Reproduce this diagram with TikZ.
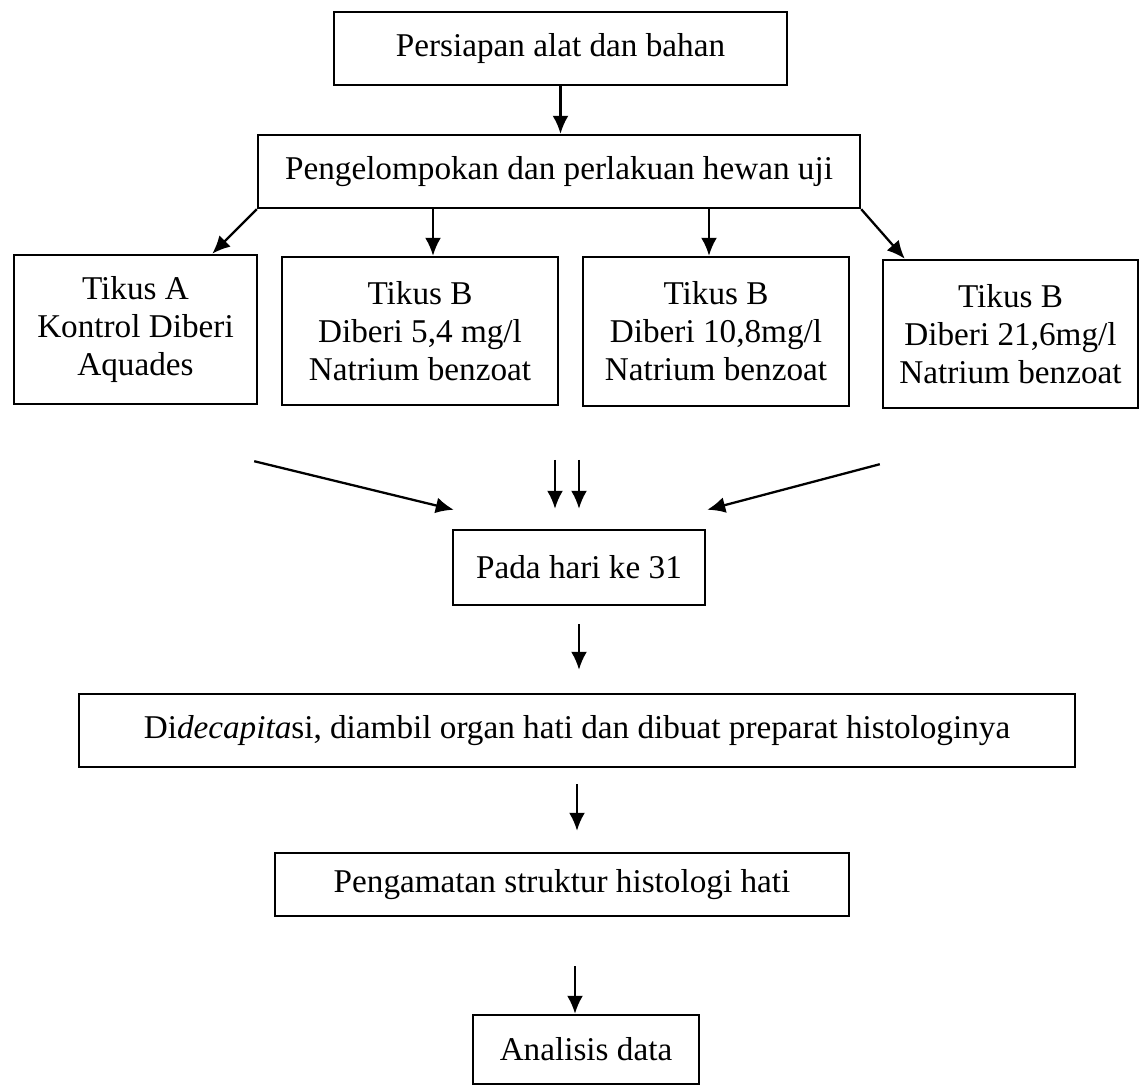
\documentclass[tikz,border=0pt]{standalone}
\usepackage{fontspec}
\setmainfont{Liberation Serif}
\usetikzlibrary{arrows.meta}

\begin{document}
\begin{tikzpicture}[
	stepBox/.style={rectangle, draw=black, line width=1.4pt, align=center, inner sep=0pt, font=\fontsize{18.9}{21.6}\selectfont},
	flowArrow/.style={-{Latex[length=3.6mm,width=3.2mm]}, line width=1.3pt}]
	\useasboundingbox (0,0) rectangle (22.8,21.76);

	% top boxes
	\node[stepBox, minimum width=9.06cm, minimum height=1.46cm](prep) at (11.21,20.79){Persiapan alat dan bahan};
	\node[stepBox, minimum width=12.04cm, minimum height=1.46cm](group) at (11.18,18.33){Pengelompokan dan perlakuan hewan uji};

	% draw rat group boxes
	\node[stepBox, minimum width=4.86cm, minimum height=2.98cm](tikusA) at (2.71,15.17){Tikus A\\Kontrol Diberi\\Aquades};
	\node[stepBox, minimum width=5.52cm, minimum height=2.96cm](tikusB1) at (8.40,15.14){Tikus B\\Diberi 5,4 mg/l\\Natrium benzoat};
	\node[stepBox, minimum width=5.32cm, minimum height=2.98cm](tikusB2) at (14.32,15.13){Tikus B\\Diberi 10,8mg/l\\Natrium benzoat};
	\node[stepBox, minimum width=5.10cm, minimum height=2.96cm](tikusB3) at (20.21,15.08){Tikus B\\Diberi 21,6mg/l\\Natrium benzoat};

	% lower boxes
	\node[stepBox, minimum width=5.04cm, minimum height=1.50cm](pada) at (11.58,10.41){Pada hari ke 31};
	\node[stepBox, minimum width=19.92cm, minimum height=1.46cm](decap) at (11.54,7.15){Di\textit{decapita}si, diambil organ hati dan dibuat preparat histologinya};
	\node[stepBox, minimum width=11.48cm, minimum height=1.26cm](amati) at (11.24,4.07){Pengamatan struktur histologi hati};
	\node[stepBox, minimum width=4.52cm, minimum height=1.38cm](analisis) at (11.72,0.77){Analisis data};

	% arrow ends
	\coordinate (toA) at ([xshift=-0.92cm]tikusA.north east);
	\coordinate (toB1) at ([xshift=0.26cm]tikusB1.north);
	\coordinate (toB2) at ([xshift=-0.14cm]tikusB2.north);
	\coordinate (toB3) at ([xshift=0.46cm]tikusB3.north west);
	\coordinate (fromA) at ([shift={(-0.08,-1.12)}]tikusA.south east);
	\coordinate (fromB3) at ([shift={(-0.04,-1.10)}]tikusB3.south west);
	\coordinate (fromMid1) at ([shift={(-0.48,1.38)}]pada.north);
	\coordinate (fromMid2) at ([yshift=1.38cm]pada.north);
	\coordinate (padaL) at ([shift={(0.04,0.38)}]pada.north west);
	\coordinate (padaR) at ([shift={(0.02,0.38)}]pada.north east);
	\coordinate (padaM1) at ([shift={(-0.48,0.40)}]pada.north);
	\coordinate (padaM2) at ([yshift=0.40cm]pada.north);
	\coordinate (toAnalisis) at ([xshift=-0.22cm]analisis.north);

	% draw top arrows
	\draw[flowArrow] (prep.south) -- (prep.south |- group.north);
	\draw[flowArrow] (group.south west) -- (toA);
	\draw[flowArrow] (toB1 |- group.south) -- (toB1);
	\draw[flowArrow] (toB2 |- group.south) -- (toB2);
	\draw[flowArrow] (group.south east) -- (toB3);

	% draw converging arrows
	\draw[flowArrow] (fromA) -- (padaL);
	\draw[flowArrow] (fromMid1) -- (padaM1);
	\draw[flowArrow] (fromMid2) -- (padaM2);
	\draw[flowArrow] (fromB3) -- (padaR);

	% draw lower arrows
	\draw[flowArrow, shorten <=0.36cm, shorten >=0.46cm] (pada.south) -- (pada.south |- decap.north);
	\draw[flowArrow, shorten <=0.32cm, shorten >=0.42cm] (decap.south) -- (decap.south |- amati.north);
	\draw[flowArrow, shorten <=0.98cm] (toAnalisis |- amati.south) -- (toAnalisis);
\end{tikzpicture}
\end{document}
